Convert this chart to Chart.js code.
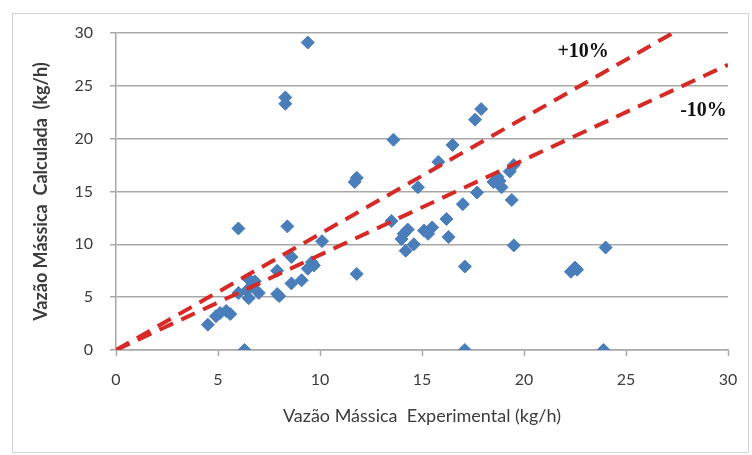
<!DOCTYPE html>
<html>
<head>
<meta charset="utf-8">
<script src="https://cdn.jsdelivr.net/npm/chart.js@4"></script>
<style>
  body { margin: 0; background: #fff; }
  #wrap { position: relative; width: 752px; height: 455px; }
  #frame { position: absolute; left: 12px; top: 13px; width: 735px; height: 438px; border: 1px solid #d4d4d4; }
  canvas { position: absolute; left: 0; top: 0; }
</style>
</head>
<body>
<div id="wrap">
  <div id="frame"></div>
  <canvas id="chart" width="752" height="455"></canvas>
</div>
<script>
'use strict';

// experimental vs calculated mass flow (kg/h)
var expFlow = [9.4, 8.3, 8.3, 13.6, 17.9, 17.6, 16.5, 15.8, 11.7, 11.8, 14.8, 18.7, 18.5, 18.9, 19.3, 19.5,
  19.4, 17.7, 17.0, 16.2, 16.3, 15.5, 15.3, 13.5, 14.3, 14.0, 14.2, 14.6, 10.1, 6.0, 8.4, 8.6,
  7.9, 9.6, 9.4, 9.1, 8.6, 7.9, 8.0, 11.8, 17.1, 19.5, 24.0, 22.3, 22.5, 22.6, 6.3, 17.1,
  23.9, 4.5, 4.9, 5.4, 5.6, 6.0, 6.5, 6.7, 6.4, 6.5, 7.0, 6.8, 9.7, 14.1, 15.1, 18.8, 5.1];
var calcFlow = [29.1, 23.9, 23.3, 19.9, 22.8, 21.8, 19.4, 17.8, 15.9, 16.3, 15.4, 16.4, 15.9, 15.4, 16.9, 17.5,
  14.2, 14.9, 13.8, 12.4, 10.7, 11.6, 11.0, 12.2, 11.4, 10.5, 9.4, 10.0, 10.3, 11.5, 11.7, 8.8,
  7.5, 8.3, 7.7, 6.6, 6.3, 5.3, 5.1, 7.2, 7.9, 9.9, 9.7, 7.4, 7.8, 7.6, 0, 0,
  0, 2.4, 3.2, 3.7, 3.4, 5.4, 6.7, 6.1, 5.6, 4.9, 5.4, 6.5, 8.0, 11.0, 11.3, 16.0, 3.5];

// +10% and -10% deviation lines
var upperX = [0, 27.3];
var upperY = [0, 30];
var lowerX = [0, 30];
var lowerY = [0, 27];

var tickValues = [0, 5, 10, 15, 20, 25, 30];
var bandLabels = ['+10%', '-10%'];
var bandLabelX = [22.9, 28.8];
var bandLabelY = [28.2, 22.6];

function toPoints(xs, ys) {
  var out = [];
  for (var i = 0; i < xs.length; i++) {
    out.push({x: xs[i], y: ys[i]});
  }
  return out;
}

var textColor = '#3c3c3c';
var gridColor = '#a8a8a8';

// draws the +10% / -10% labels at data positions
var bandLabelPlugin = {
  id: 'bandLabels',
  afterDatasetsDraw: function(chart) {
    var ctx = chart.ctx;
    var xs = chart.scales.x;
    var ys = chart.scales.y;
    ctx.save();
    ctx.font = 'bold 20px "Liberation Serif"';
    ctx.fillStyle = '#111';
    ctx.textAlign = 'center';
    ctx.textBaseline = 'middle';
    for (var i = 0; i < bandLabels.length; i++) {
      ctx.fillText(bandLabels[i], xs.getPixelForValue(bandLabelX[i]), ys.getPixelForValue(bandLabelY[i]));
    }
    ctx.restore();
  }
};

var ctx = document.getElementById('chart').getContext('2d');
var chart = new Chart(ctx, {
  type: 'scatter',
  data: {
    datasets: [
      {
        label: '+10%',
        data: toPoints(upperX, upperY),
        showLine: true,
        borderColor: '#d62a27',
        borderWidth: 4,
        borderDash: [15, 9],
        pointRadius: 0,
        order: 0
      },
      {
        label: '-10%',
        data: toPoints(lowerX, lowerY),
        showLine: true,
        borderColor: '#d62a27',
        borderWidth: 4,
        borderDash: [15, 9],
        pointRadius: 0,
        order: 0
      },
      {
        label: 'dados',
        data: toPoints(expFlow, calcFlow),
        pointStyle: 'rectRot',
        pointRadius: 6.5,
        backgroundColor: '#4a7ebb',
        borderColor: '#4a7ebb',
        borderWidth: 1,
        order: 1
      }
    ]
  },
  options: {
    responsive: false,
    animation: false,
    layout: { padding: { left: 0, top: 33, right: 24, bottom: 0 } },
    plugins: {
      legend: { display: false },
      tooltip: { enabled: false }
    },
    scales: {
      x: {
        type: 'linear',
        min: 0,
        max: 30,
        afterBuildTicks: function(axis) {
          axis.ticks = tickValues.map(function(v) { return {value: v}; });
        },
        afterFit: function(axis) { axis.height = 105; },
        grid: { drawOnChartArea: false, drawTicks: true, tickLength: 6, tickColor: gridColor, tickWidth: 1.5 },
        border: { color: gridColor, width: 1.5 },
        ticks: { color: textColor, padding: 14, font: { family: 'Lato', size: 16 } },
        title: {
          display: true,
          text: 'Vazão Mássica  Experimental (kg/h)',
          color: textColor,
          font: { family: 'Lato', size: 18 },
          padding: { top: 0, bottom: 28 }
        }
      },
      y: {
        type: 'linear',
        min: 0,
        max: 30,
        afterBuildTicks: function(axis) {
          axis.ticks = tickValues.map(function(v) { return {value: v}; });
        },
        afterFit: function(axis) { axis.width = 116; },
        grid: { color: gridColor, lineWidth: 1.5, tickLength: 6 },
        border: { color: gridColor, width: 1.5 },
        ticks: { color: textColor, padding: 17, font: { family: 'Lato', size: 16 } },
        title: {
          display: true,
          text: 'Vazão Mássica  Calculada  (kg/h)',
          color: textColor,
          font: { family: 'Lato', size: 18, weight: 'bold' },
          padding: { top: 30, bottom: 0 }
        }
      }
    }
  },
  plugins: [bandLabelPlugin]
});
</script>
</body>
</html>
